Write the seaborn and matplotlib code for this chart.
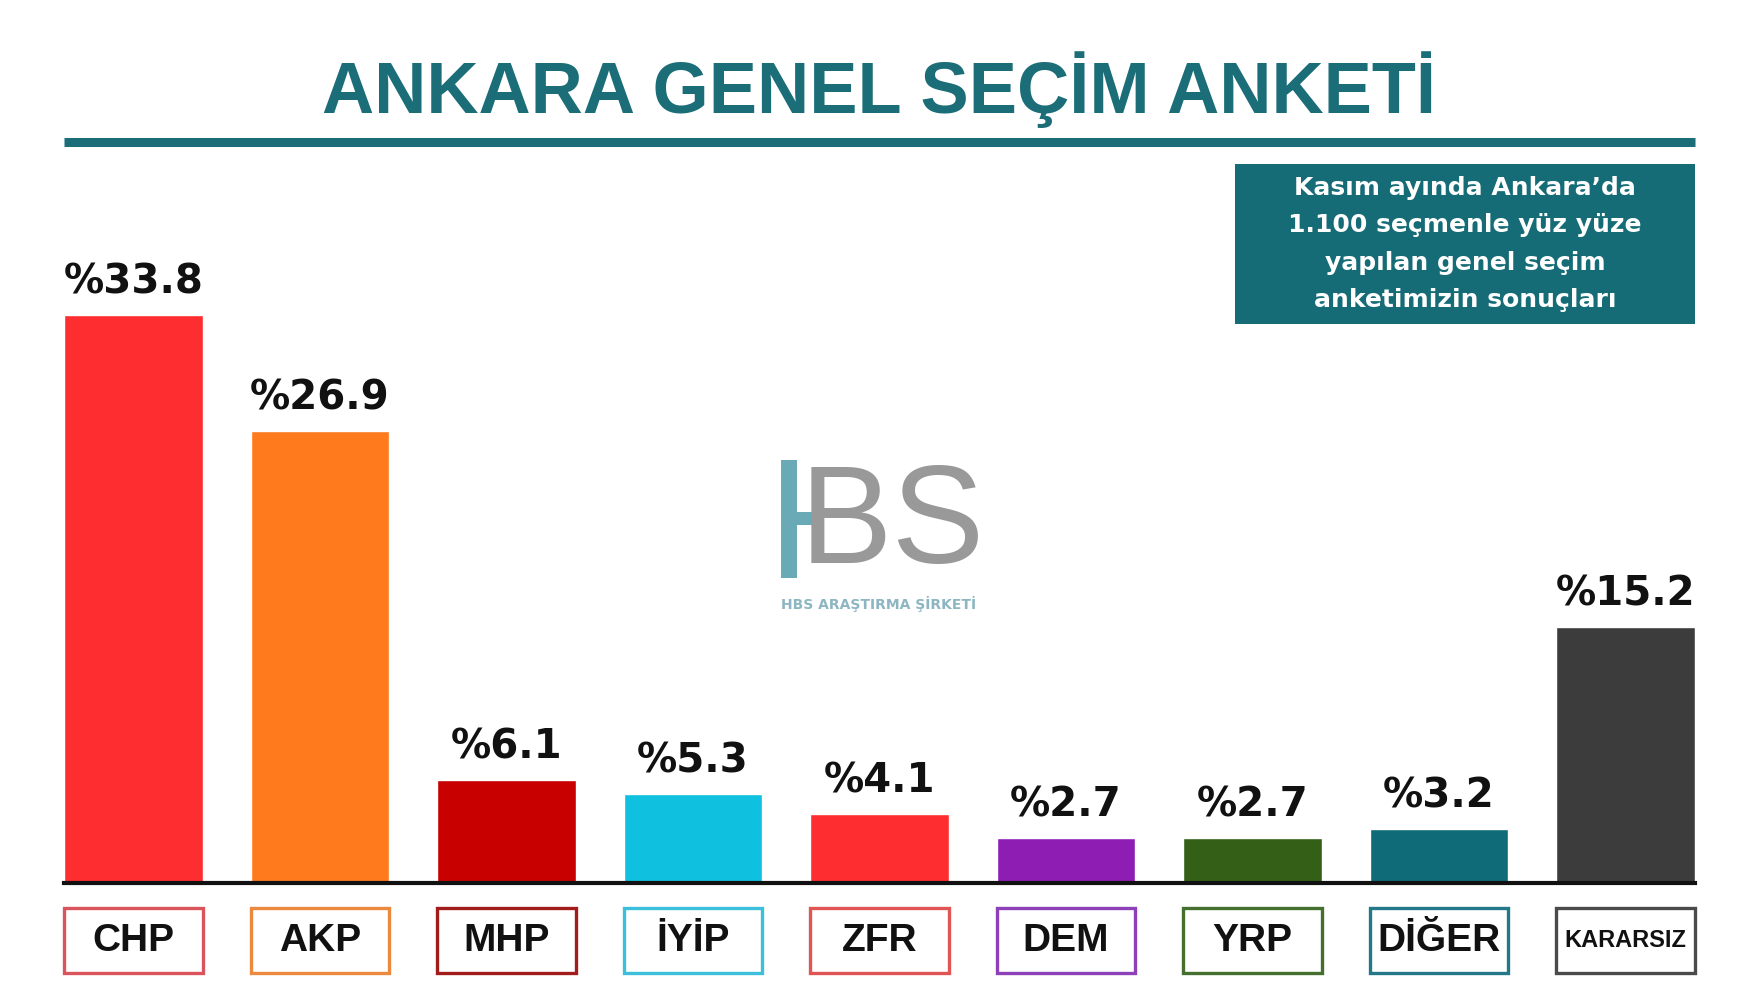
import matplotlib
matplotlib.use("Agg")
import matplotlib.pyplot as plt
import seaborn as sns
from matplotlib.patches import Rectangle
from matplotlib.lines import Line2D

# veriler
partiler = ["CHP", "AKP", "MHP", "İYİP", "ZFR", "DEM", "YRP", "DİĞER", "KARARSIZ"]
oranlar = [33.8, 26.9, 6.1, 5.3, 4.1, 2.7, 2.7, 3.2, 15.2]
etiketler = ["%33.8", "%26.9", "%6.1", "%5.3", "%4.1", "%2.7", "%2.7", "%3.2", "%15.2"]
renkler = ["#fe2d2f", "#fe7a1c", "#c90000", "#10c0df", "#fe2d2f",
           "#8e1db4", "#335f17", "#0f6b78", "#3c3c3c"]
cerceve = ["#d9545b", "#eb8a3e", "#a31c1c", "#3cbfda", "#e05454",
           "#8d40b7", "#456f2e", "#23798a", "#4a4a4a"]

baslik = "ANKARA GENEL SEÇİM ANKETİ"
kutu_yazi = "Kasım ayında Ankara’da\n1.100 seçmenle yüz yüze\nyapılan genel seçim\nanketimizin sonuçları"

TEAL = "#1b6d78"
W, H = 1758, 1000

sns.set_style("white")
plt.rcParams["font.family"] = ["DejaVu Sans"]

fig = plt.figure(figsize=(W / 100, H / 100), dpi=100)
x0, x1 = 64 / W, 1695 / W
ax = fig.add_axes([x0, 0.117, x1 - x0, 0.733])

genislik = 0.745
sns.barplot(x=partiler, y=oranlar, hue=partiler, palette=renkler, legend=False,
            width=genislik, saturation=1, ax=ax, zorder=2)
ax.set_xlim(-genislik / 2, len(partiler) - 1 + genislik / 2)
ax.set_ylim(0, 43.6)

# bar etiketleri
for i, (v, t) in enumerate(zip(oranlar, etiketler)):
    ax.annotate(t, (i, v), xytext=(0, 9), textcoords="offset points",
                ha="center", va="bottom", fontsize=29, fontweight="bold", color="#111111")

for s in ["top", "right", "left"]:
    ax.spines[s].set_visible(False)
ax.spines["bottom"].set_color("#111111")
ax.spines["bottom"].set_linewidth(3)
ax.spines["bottom"].set_zorder(3)
ax.set_xticks([])
ax.set_yticks([])
ax.set_xlabel("")
ax.set_ylabel("")

# parti kutulari
kutu_alt, kutu_h = -0.1228, 0.0887
for i, p in enumerate(partiler):
    ax.add_patch(Rectangle((i - genislik / 2, kutu_alt), genislik, kutu_h,
                           transform=ax.get_xaxis_transform(), clip_on=False,
                           facecolor="white", edgecolor=cerceve[i], linewidth=2.4))
    fs = 17 if p == "KARARSIZ" else 28
    ax.text(i, kutu_alt + kutu_h / 2, p, transform=ax.get_xaxis_transform(),
            ha="center", va="center", fontsize=fs, fontweight="bold",
            family=["Liberation Sans", "DejaVu Sans"], color="#111111")

# baslik ve cizgi
fig.text(0.5, 1 - 113 / H, baslik, ha="center", va="baseline", fontsize=52,
         fontweight="bold", color=TEAL, family=["Liberation Sans", "DejaVu Sans"])
fig.add_artist(Line2D([x0, x1], [1 - 141.5 / H] * 2, color=TEAL, linewidth=6.5,
                      solid_capstyle="butt", transform=fig.transFigure))

# bilgi kutusu
bx0, bx1, by0, by1 = 1235 / W, 1695 / W, 1 - 324 / H, 1 - 164 / H
fig.add_artist(Rectangle((bx0, by0), bx1 - bx0, by1 - by0, transform=fig.transFigure,
                         facecolor="#156c76", edgecolor="none"))
fig.text((bx0 + bx1) / 2, (by0 + by1) / 2, kutu_yazi, ha="center", va="center",
         fontsize=18, fontweight="bold", color="white", linespacing=1.7)

# filigran logo: H seklindeki isaret + BS yazisi
logo_mavi, logo_gri = "#6aa9b6", "#999999"
fig.add_artist(Rectangle((781 / W, 1 - 578 / H), 16 / W, 118 / H,
                         transform=fig.transFigure, facecolor=logo_mavi, edgecolor="none"))
fig.add_artist(Rectangle((797 / W, 1 - 525 / H), 26 / W, 13 / H,
                         transform=fig.transFigure, facecolor=logo_mavi, edgecolor="none"))
fig.text(800 / W, 1 - 592 / H, "BS", ha="left", va="bottom", fontsize=100,
         color=logo_gri, family=["Liberation Sans", "DejaVu Sans"])
fig.text(879 / W, 1 - 604 / H, "HBS ARAŞTIRMA ŞİRKETİ", ha="center", va="center",
         fontsize=10, fontweight="bold", color="#8db6c2")

fig.savefig("out.png", dpi=100, facecolor="white")
